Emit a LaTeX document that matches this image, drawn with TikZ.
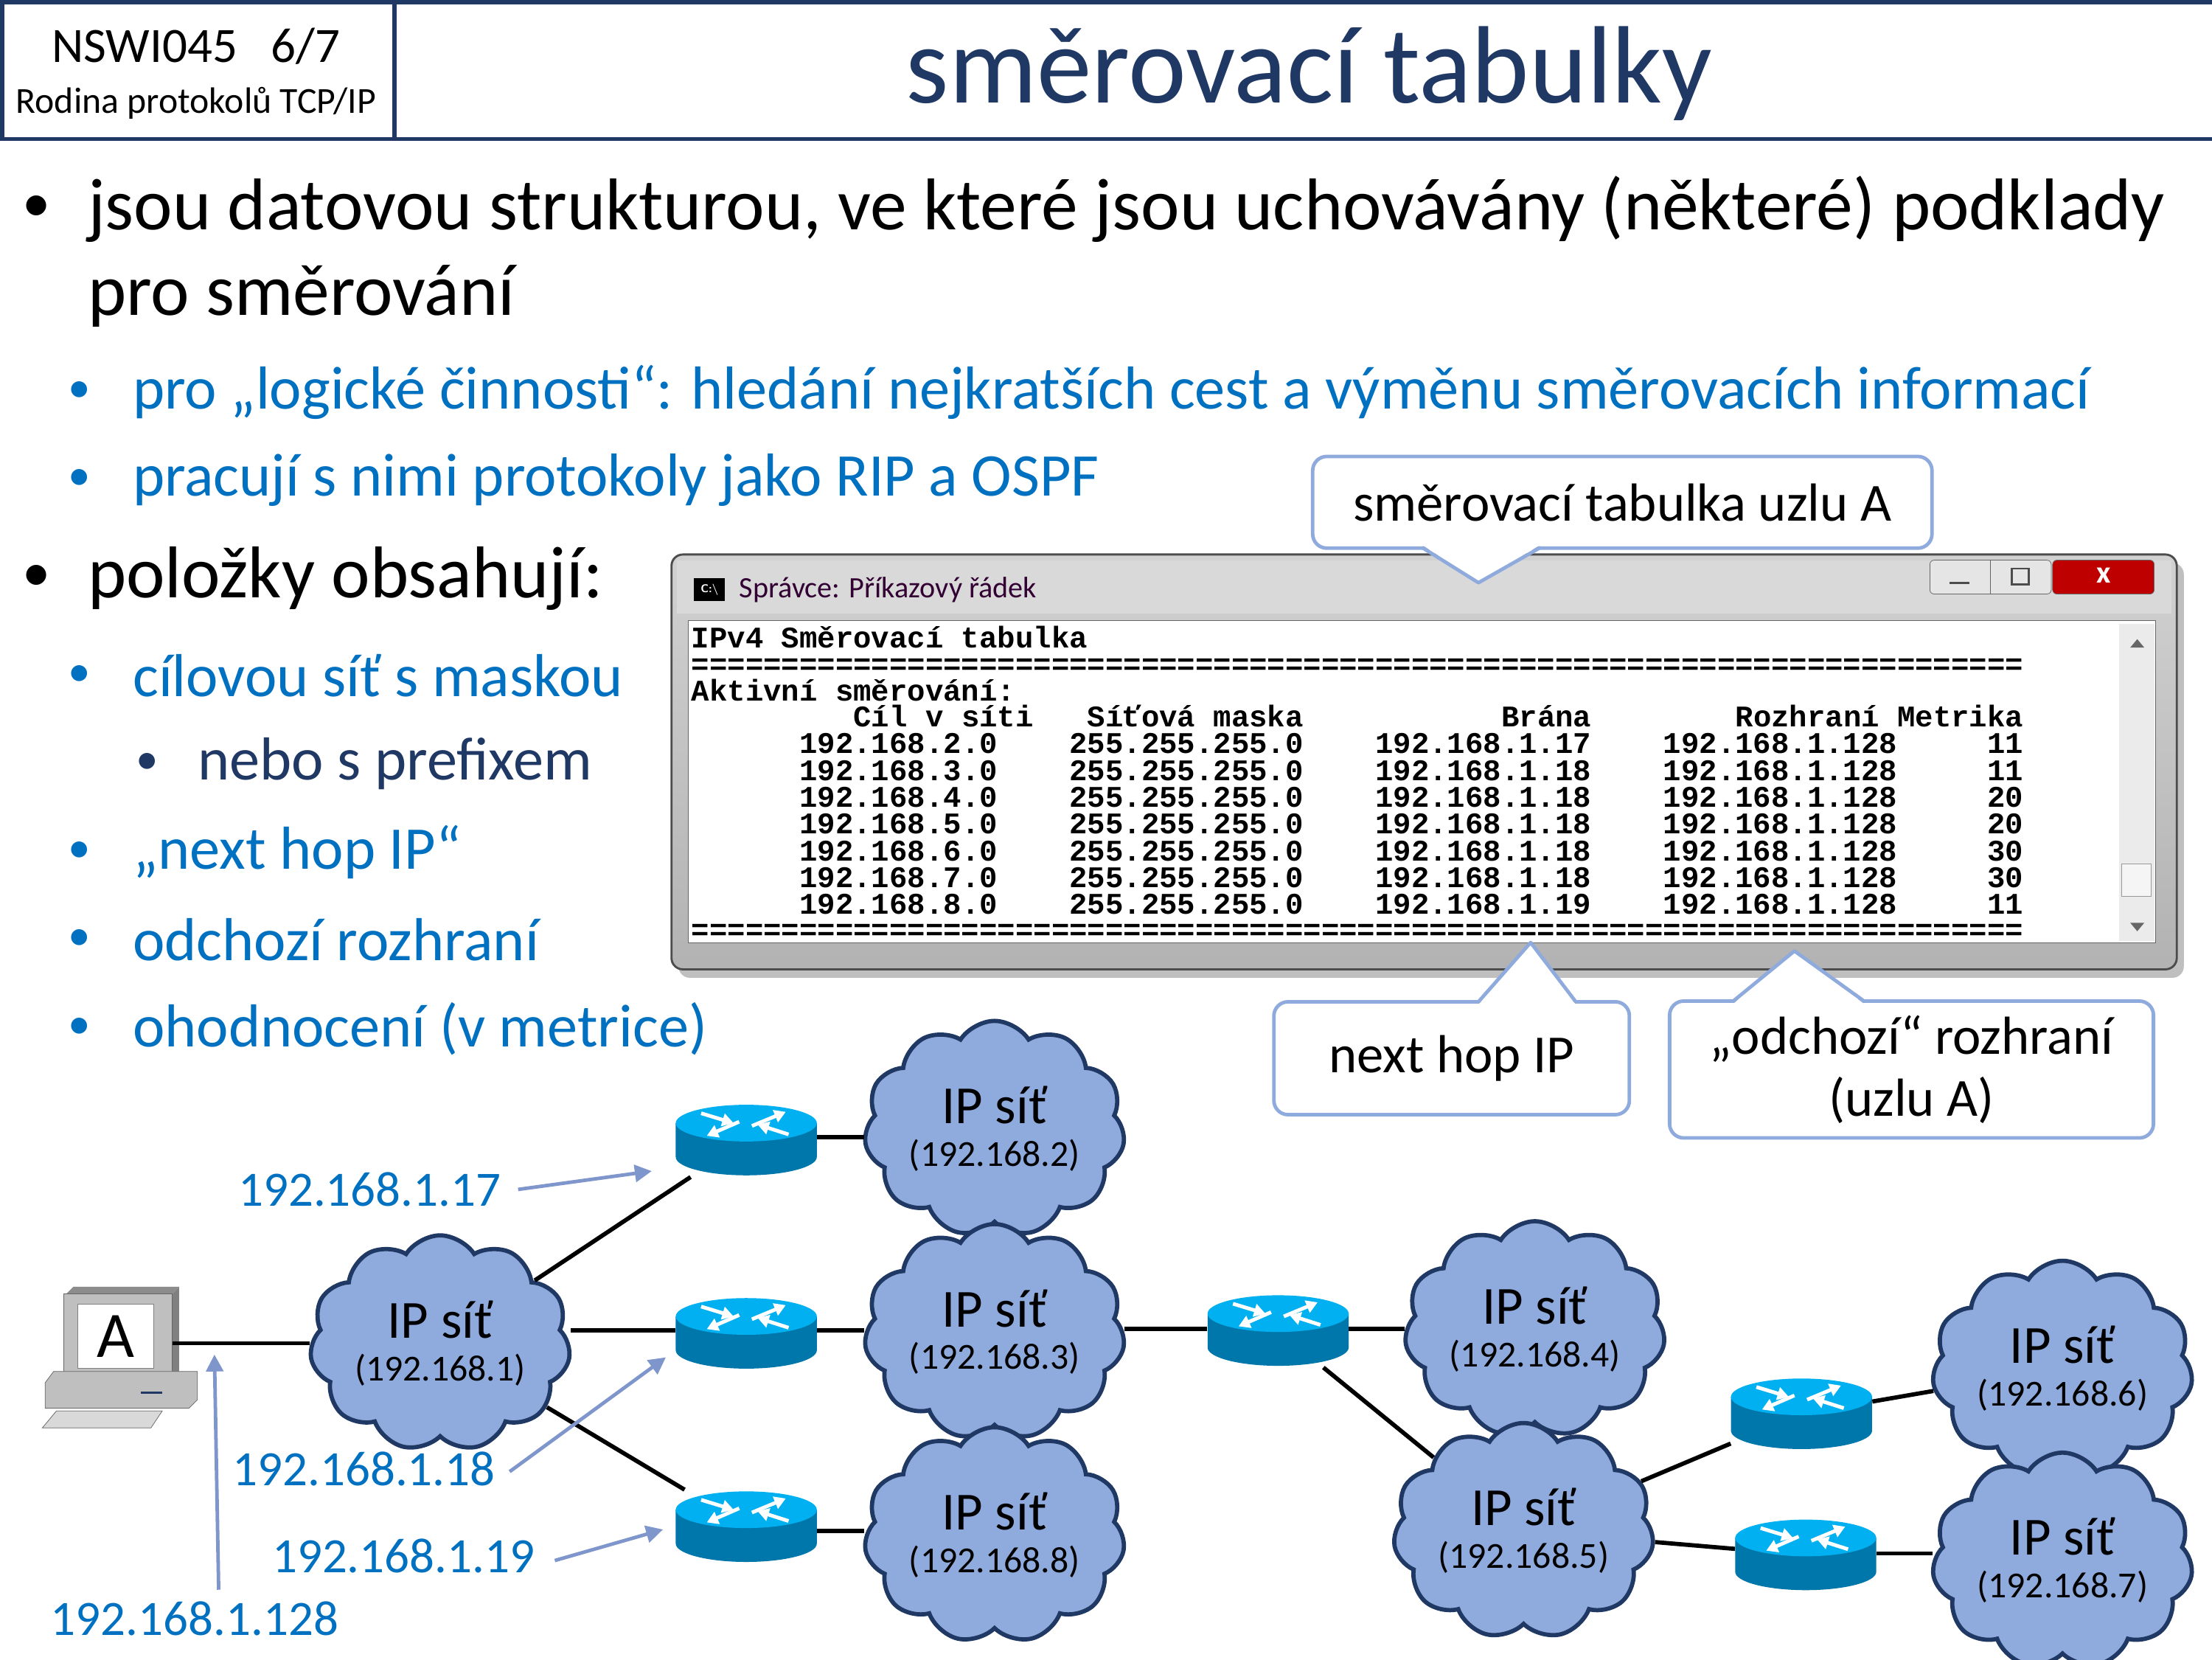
\documentclass[tikz,border=0pt]{standalone}
\usepackage{fontspec}
\setmainfont{Carlito}
\setmonofont{Liberation Mono}[BoldFont={* Bold}]
\usetikzlibrary{shapes.symbols,shapes.geometric,arrows.meta}
\definecolor{navy}{HTML}{1F3864}
\definecolor{myblue}{HTML}{0070C0}
\definecolor{cloudf}{HTML}{8FAADC}
\definecolor{callb}{HTML}{8FAADC}
\definecolor{arrc}{HTML}{7F96CC}
\definecolor{rtop}{HTML}{00B0F0}
\definecolor{rside}{HTML}{0077AA}
\tikzset{
  fs/.style={font=\fontsize{#1}{#1}\selectfont},
  txt/.style={anchor=west,inner sep=0pt},
  cl/.style={cloud, cloud puffs=11, cloud puff arc=115, aspect=1.3, draw=navy, line width=3, fill=cloudf, minimum width=178, minimum height=122, align=center, inner sep=0pt},
  rbox/.style={minimum width=100, minimum height=52, inner sep=0pt},
  lnk/.style={line width=3, black},
  lab/.style={fs=35, text=myblue, inner sep=0pt},
  larr/.style={arrc, line width=2.5, -{Triangle[length=12,width=12]}},
  callout/.style={draw=callb, line width=2.5, rounded corners=10, fill=white, fs=38, align=center},
  mono/.style={font=\fontsize{21.26}{22}\ttfamily\bfseries, anchor=base west, inner sep=0pt},
}
\newcommand\router[3]{%
  \node[rbox] (#1) at (#2,#3) {};
  \fill[rside] (#2-50,#3-12) -- (#2-50,#3+12) arc[start angle=180,end angle=0,x radius=50,y radius=13] -- (#2+50,#3-12) -- cycle;
  \fill[rtop] (#2,#3-12) ellipse [x radius=50, y radius=13];
  \begin{scope}[shift={(#2,#3-12)}]
  \draw[white, line width=2.6, -{Triangle[length=8,width=9]}] (-32,-7) -- (-9,0);
  \draw[white, line width=2.6, -{Triangle[length=8,width=9]}] (4,2) -- (28,-8);
  \draw[white, line width=2.6, -{Triangle[length=8,width=9]}] (30,8) -- (8,1);
  \draw[white, line width=2.6, -{Triangle[length=8,width=9]}] (-5,-1) -- (-28,9);
  \end{scope}}
\newcommand\cloudtxt[1]{{\fontsize{38}{40}\selectfont IP síť}\\[10pt]{\fontsize{26}{28}\selectfont(192.168.#1)}}
\begin{document}
\begin{tikzpicture}[x=1pt,y=-1pt]
\useasboundingbox (0,0) rectangle (1568,1176);
\fill[white] (0,0) rectangle (1568,1176);
% header
\node[draw=navy, line width=3, minimum width=278, minimum height=97, anchor=north west, inner sep=0] (hb) at (0,0) {};
\node[draw=navy, line width=3, minimum width=1290, minimum height=97, anchor=north west, inner sep=0] (tb) at (278,0) {};
\node[fs=35] (hn) at (139,33) {NSWI045\hspace{24pt}6/7};
\node[fs=26] (hs) at (139,73) {Rodina protokolů TCP/IP};
\node[fs=78, text=navy] (title) at (928,52) {směrovací tabulky};
% bullets
\node[txt,fs=40] (b1d) at (16,148) {•};
\node[txt,fs=52] (b1) at (62,148) {jsou datovou strukturou, ve které jsou uchovávány (některé) podklady};
\node[txt,fs=52] (b1b) at (62,210) {pro směrování};
\node[txt,fs=32,text=myblue] (b2d) at (48,278) {•};
\node[txt,fs=43,text=myblue] (b2) at (94,278) {pro „logické činnosti“: hledání nejkratších cest a výměnu směrovacích informací};
\node[txt,fs=32,text=myblue] (b3d) at (48,340) {•};
\node[txt,fs=43,text=myblue] (b3) at (94,340) {pracují s nimi protokoly jako RIP a OSPF};
\node[txt,fs=40] (b4d) at (16,410) {•};
\node[txt,fs=52] (b4) at (62,410) {položky obsahují:};
\node[txt,fs=32,text=myblue] (b5d) at (48,479) {•};
\node[txt,fs=43,text=myblue] (b5) at (94,479) {cílovou síť s maskou};
\node[txt,fs=32,text=navy] (b6d) at (96,541) {•};
\node[txt,fs=43,text=navy] (b6) at (140,541) {nebo s prefixem};
\node[txt,fs=32,text=myblue] (b7d) at (48,604) {•};
\node[txt,fs=43,text=myblue] (b7) at (94,604) {„next hop IP“};
\node[txt,fs=32,text=myblue] (b8d) at (48,666) {•};
\node[txt,fs=43,text=myblue] (b8) at (94,666) {odchozí rozhraní};
\node[txt,fs=32,text=myblue] (b9d) at (48,729) {•};
\node[txt,fs=43,text=myblue] (b9) at (94,729) {ohodnocení (v metrice)};
% console window
\fill[black!25, rounded corners=8] (481,399) rectangle (1548,693);
\draw[black!70, line width=1.5, top color=black!18, bottom color=black!30, rounded corners=8] (476,393) rectangle (1543,687);
\fill[white!85!black] (480,397) rectangle (1539,435);
\node[fill=black, text=white, font=\fontsize{8}{8}\sffamily\bfseries, minimum width=22, minimum height=16, inner sep=0] (ico) at (503,418) {C:\textbackslash};
\node[txt, fs=21, text=black!60!violet] (wt) at (524,418) {Správce: Příkazový řádek};
\draw[black!60, fill=black!10, rounded corners=3] (1368,397) rectangle (1454,421);
\draw[black!60] (1411,397) -- (1411,421);
\draw[black!70, line width=1.5] (1382,413) -- (1396,413);
\draw[black!70, line width=1.5] (1426,403) rectangle (1438,414);
\draw[black!60, fill=red!75!black, rounded corners=3] (1455,397) rectangle (1527,421);
\node[text=white, font=\bfseries\fontsize{22}{22}\selectfont] (xb) at (1491,408) {x};
\draw[black!60, fill=white] (488,440) rectangle (1528,668);
\fill[black!8] (1502,442) rectangle (1527,667);
\fill[black!60] (1510,459) -- (1520,459) -- (1515,453) -- cycle;
\fill[black!60] (1510,654) -- (1520,654) -- (1515,660) -- cycle;
\draw[black!40, fill=black!4] (1504,612) rectangle (1525,635);
\node[mono] (l1) at (490,459) {IPv4~Směrovací~tabulka};
\node[mono] (l2) at (490,478) {==========================================================================};
\node[mono] (l3) at (490,497) {Aktivní~směrování:};
\node[mono] (l4) at (490,515) {~~~~~~~~~Cíl~v~síti~~~Síťová~maska~~~~~~~~~~~Brána~~~~~~~~Rozhraní~Metrika};
\node[mono] (r2) at (490,534) {~~~~~~192.168.2.0~~~~255.255.255.0~~~~192.168.1.17~~~~192.168.1.128~~~~~11};
\node[mono] (r3) at (490,553) {~~~~~~192.168.3.0~~~~255.255.255.0~~~~192.168.1.18~~~~192.168.1.128~~~~~11};
\node[mono] (r4) at (490,572) {~~~~~~192.168.4.0~~~~255.255.255.0~~~~192.168.1.18~~~~192.168.1.128~~~~~20};
\node[mono] (r5) at (490,591) {~~~~~~192.168.5.0~~~~255.255.255.0~~~~192.168.1.18~~~~192.168.1.128~~~~~20};
\node[mono] (r6) at (490,610) {~~~~~~192.168.6.0~~~~255.255.255.0~~~~192.168.1.18~~~~192.168.1.128~~~~~30};
\node[mono] (r7) at (490,629) {~~~~~~192.168.7.0~~~~255.255.255.0~~~~192.168.1.18~~~~192.168.1.128~~~~~30};
\node[mono] (r8) at (490,648) {~~~~~~192.168.8.0~~~~255.255.255.0~~~~192.168.1.19~~~~192.168.1.128~~~~~11};
\node[mono] (l5) at (490,666) {==========================================================================};
% callouts
\node[callout, minimum width=439, minimum height=65] (ca) at (1150,356) {směrovací tabulka uzlu A};
\fill[white] (1008,386) -- (1048,413) -- (1092,386) -- cycle;
\draw[callb, line width=2.5, line join=round] (1008,388) -- (1048,413) -- (1092,388);
\node[callout, minimum width=252, minimum height=80] (cb) at (1029,750) {next hop IP};
\fill[white] (1048,712) -- (1085,668) -- (1117,712) -- cycle;
\draw[callb, line width=2.5, line join=round] (1048,710) -- (1085,668) -- (1117,710);
\node[callout, minimum width=343, minimum height=97] (cc) at (1355,758) {„odchozí“ rozhraní\\[6pt](uzlu A)};
\fill[white] (1228,712) -- (1272,674) -- (1322,712) -- cycle;
\draw[callb, line width=2.5, line join=round] (1228,710) -- (1272,674) -- (1322,710);
% computer
\fill[black!45] (47,917) -- (52,912) -- (127,912) -- (122,917) -- cycle;
\fill[black!50] (122,917) -- (127,912) -- (127,972) -- (122,977) -- cycle;
\node[draw=black!60, fill=black!25, minimum width=77, minimum height=60, anchor=north west, inner sep=0] (mon) at (45,917) {};
\node[draw=black!50, fill=white, minimum width=54, minimum height=45, fs=46, inner sep=0] (scr) at (82,947) {A};
\draw[black!60, fill=black!25] (32,980) -- (38,972) -- (140,972) -- (140,992) -- (134,998) -- (32,998) -- cycle;
\draw[navy, line width=2] (100,987) -- (115,987);
\draw[black!60, fill=black!15] (40,1000) -- (115,1000) -- (107,1012) -- (30,1012) -- cycle;
% clouds
\node[cl] (c1) at (312,952) {\cloudtxt{1}};
\node[cl] (c2) at (705,800) {\cloudtxt{2}};
\node[cl] (c3) at (705,944) {\cloudtxt{3}};
\node[cl] (c8) at (705,1088) {\cloudtxt{8}};
\node[cl] (c4) at (1088,942) {\cloudtxt{4}};
\node[cl] (c5) at (1080,1085) {\cloudtxt{5}};
\node[cl] (c6) at (1462,970) {\cloudtxt{6}};
\node[cl] (c7) at (1462,1106) {\cloudtxt{7}};
% routers
\router{r1n}{529}{808}
\router{r2n}{529}{945}
\router{r3n}{529}{1082}
\router{r4n}{906}{943}
\router{r5n}{1277}{1002}
\router{r6n}{1280}{1102}
% links
\draw[lnk] (mon.east |- 0,952) -- (c1.west |- 0,952);
\draw[lnk] (c1) -- (r1n);
\draw[lnk] (c1.east |- 0,943) -- (r2n.west |- 0,943);
\draw[lnk] (c1) -- (r3n);
\draw[lnk] (r1n.east |- 0,806) -- (c2.west |- 0,806);
\draw[lnk] (r2n.east |- 0,943) -- (c3.west |- 0,943);
\draw[lnk] (r3n.east |- 0,1085) -- (c8.west |- 0,1085);
\draw[lnk] (c3.east |- 0,942) -- (r4n.west |- 0,942);
\draw[lnk] (r4n.east |- 0,942) -- (c4.west |- 0,942);
\draw[lnk] (r4n) -- (c5);
\draw[lnk] (c5) -- (r5n);
\draw[lnk] (c5) -- (r6n);
\draw[lnk] (r5n) -- (c6);
\draw[lnk] (r6n.east |- 0,1101) -- (c7.west |- 0,1101);
% labels
\node[lab] (a17) at (262,843) {192.168.1.17};
\node[lab] (a18) at (258,1041) {192.168.1.18};
\node[lab] (a19) at (286,1103) {192.168.1.19};
\node[lab] (a128) at (138,1147) {192.168.1.128};
\coordinate (t17) at (462,830);
\coordinate (t18) at (472,962);
\coordinate (t19) at (470,1084);
\coordinate (t128) at (152,960);
\draw[larr] (a17.east) ++(12,0) -- (t17);
\draw[larr] (a18.east) ++(10,2) -- (t18);
\draw[larr] (a19.east) ++(14,3) -- (t19);
\draw[larr] (a128.north) ++(17,-8) -- (t128);
\end{tikzpicture}
\end{document}
